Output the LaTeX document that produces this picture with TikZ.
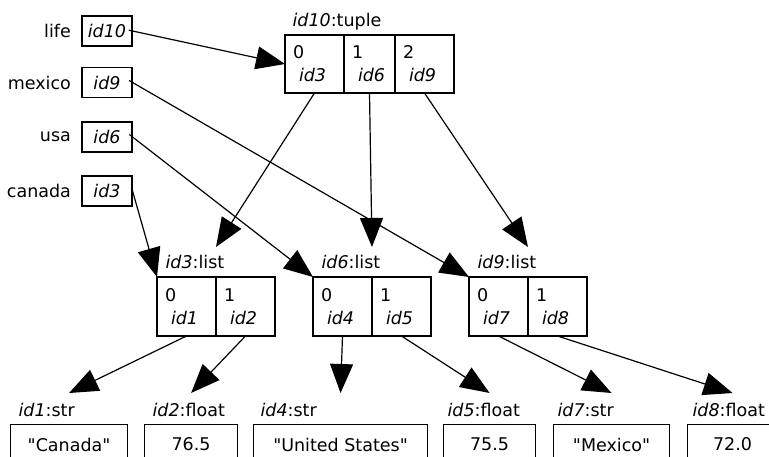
\documentclass[tikz,border=0pt]{standalone}
\usepackage{fontspec}
\setmainfont{DejaVu Sans}[Ligatures=TeXOff]
\usetikzlibrary{positioning,arrows.meta}

\begin{document}
\begin{tikzpicture}[x=1pt, y=-1pt, >={Triangle[length=29pt, width=23pt]},
  font=\fontsize{17.5}{23}\selectfont, line width=1.1pt]
  \tikzstyle{var}=[draw, minimum width=50pt, minimum height=30pt, inner sep=0pt]
  \tikzstyle{varlabel}=[inner sep=0pt]
  \tikzstyle{cell}=[draw, minimum height=59pt, text width=43pt, inner xsep=8pt,
    inner ysep=0pt, align=left, anchor=north west, outer sep=0pt]
  \tikzstyle{tag}=[inner sep=0pt, text depth=0pt]
  \tikzstyle{val}=[draw, minimum height=40pt, inner sep=0pt, anchor=north west]
  \tikzstyle{ptr}=[->, line width=1.2pt]

  \useasboundingbox (0,0) rectangle (769,457);
  \clip (0,0) rectangle (769,457);

  % variables
  \node[var] (v10) at (107,31) {\textit{id10}};
  \node[var] (v9) at (107,82.5) {\textit{id9}};
  \node[var] (v6) at (107,137) {\textit{id6}};
  \node[var] (v3) at (107,191) {\textit{id3}};
  \node[varlabel, left=10pt of v10] (life) {life};
  \node[varlabel, left=10pt of v9] (mexico) {mexico};
  \node[varlabel, left=10pt of v6] (usa) {usa};
  \node[varlabel, left=10pt of v3] (canada) {canada};

  % the tuple
  \node[cell, minimum height=58pt] (t0) at (285,35) {0\\\hspace*{6pt}\textit{id3}};
  \node[cell, minimum height=58pt, text width=35pt, right=0pt of t0] (t1) {1\\\hspace*{6pt}\textit{id6}};
  \node[cell, minimum height=58pt, right=0pt of t1] (t2) {2\\\hspace*{6pt}\textit{id9}};
  \node[tag, above right=8pt and 7pt of t0.north west] (t0tag) {\textit{id10}:tuple};

  % the lists
  \node[cell] (l3a) at (157,277) {0\\\hspace*{6pt}\textit{id1}};
  \node[cell, right=0pt of l3a] (l3b) {1\\\hspace*{6pt}\textit{id2}};
  \node[tag, above right=8pt and 8pt of l3a.north west] (l3tag) {\textit{id3}:list};
  \node[cell] (l6a) at (313,277) {0\\\hspace*{6pt}\textit{id4}};
  \node[cell, right=0pt of l6a] (l6b) {1\\\hspace*{6pt}\textit{id5}};
  \node[tag, above right=8pt and 8pt of l6a.north west] (l6tag) {\textit{id6}:list};
  \node[cell] (l9a) at (469,277) {0\\\hspace*{6pt}\textit{id7}};
  \node[cell, right=0pt of l9a] (l9b) {1\\\hspace*{6pt}\textit{id8}};
  \node[tag, above right=8pt and 8pt of l9a.north west] (l9tag) {\textit{id9}:list};

  % the values
  \node[val, minimum width=117pt] (s1) at (10,424) {"Canada"};
  \node[val, minimum width=93pt] (s2) at (144,424) {76.5};
  \node[val, minimum width=174pt] (s4) at (253,424) {"United States"};
  \node[val, minimum width=92pt] (s5) at (443,424) {75.5};
  \node[val, minimum width=116pt] (s7) at (553,424) {"Mexico"};
  \node[val, minimum width=90pt] (s8) at (687,424) {72.0};
  \node[tag, anchor=base west] (s1tag) at (18,416) {\textit{id1}:str};
  \node[tag, anchor=base west] (s2tag) at (152,416) {\textit{id2}:float};
  \node[tag, anchor=base west] (s4tag) at (260,416) {\textit{id4}:str};
  \node[tag, anchor=base west] (s5tag) at (447,416) {\textit{id5}:float};
  \node[tag, anchor=base west] (s7tag) at (557,416) {\textit{id7}:str};
  \node[tag, anchor=base west] (s8tag) at (692,416) {\textit{id8}:float};

  % where the arrows stop
  \coordinate (l3in) at ([yshift=30pt]l3a.north east);
  \coordinate (l6in) at ([yshift=30pt]l6a.north east);
  \coordinate (l9in) at ([yshift=30pt]l9a.north east);
  \coordinate (s1in) at ([yshift=31pt]s1.north);
  \coordinate (s2in) at ([yshift=31pt]s2.north);
  \coordinate (s4in) at ([yshift=31pt]s4.north);
  \coordinate (s5in) at ([yshift=31pt]s5.north);
  \coordinate (s7in) at ([yshift=31pt]s7.north);
  \coordinate (s8in) at ([yshift=31pt]s8.north);

  \draw[ptr, shorten <=-4pt] (v10.east) -- (t0.west);
  \draw[ptr, shorten <=-4pt] (v9.east) -- (l9a.north west);
  \draw[ptr, shorten <=-4pt] (v6.east) -- (l6a.north west);
  \draw[ptr, shorten <=-4pt] (v3.east) -- (l3a.north west);

  \draw[ptr] (t0.south) -- (l3in);
  \draw[ptr] (t1.south) -- (l6in);
  \draw[ptr] (t2.south) -- (l9in);

  \draw[ptr] (l3a.south) -- (s1in);
  \draw[ptr] (l3b.south) -- (s2in);
  \draw[ptr] (l6a.south) -- (s4in);
  \draw[ptr] (l6b.south) -- (s5in);
  \draw[ptr] (l9a.south) -- (s7in);
  \draw[ptr] (l9b.south) -- (s8in);
\end{tikzpicture}
\end{document}
